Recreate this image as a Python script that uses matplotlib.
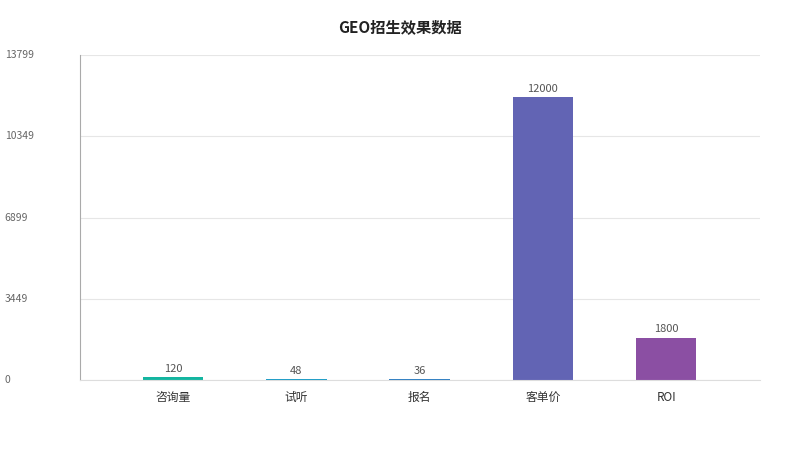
import matplotlib.pyplot as plt

plt.rcParams['font.family'] = ['Noto Sans CJK SC', 'DejaVu Sans']

categories = ['咨询量', '试听', '报名', '客单价', 'ROI']
values = [120, 48, 36, 12000, 1800]
colors = ['#13b5a0', '#1a9cc6', '#2e7ec2', '#6264b4', '#8b4fa3']
yticks = [0, 3449, 6899, 10349, 13799]

fig = plt.figure(figsize=(8, 4.5), dpi=100)
ax = fig.add_axes([0.1, 0.155, 0.85, 0.723])

x = list(range(len(categories)))
bars = ax.bar(x, values, width=0.49, color=colors)
for xi, v in zip(x, values):
    ax.text(xi, v + 150, str(v), ha='center', va='bottom', fontsize=8, color='#555555')

ax.set_xlim(-0.754, 4.76)
ax.set_ylim(0, 13799)
ax.set_yticks(yticks)
ax.set_yticklabels([])
for t in yticks:
    fig.text(0.006, 0.155 + 0.723 * t / 13799, str(t), ha='left', va='center',
             fontsize=7.5, color='#666666')
ax.set_xticks(x)
ax.set_xticklabels(categories, fontsize=8.5, color='#333333')
ax.tick_params(length=0)
ax.tick_params(axis='x', pad=8)
ax.grid(axis='y', color='#e6e6e6', linewidth=0.8)
ax.set_axisbelow(True)
for s in ['top', 'right']:
    ax.spines[s].set_visible(False)
ax.spines['left'].set_color('#aaaaaa')
ax.spines['bottom'].set_color('#dddddd')

fig.text(0.5, 0.94, 'GEO招生效果数据', ha='center', va='center', fontsize=11,
         fontweight='bold', color='#222222')

fig.savefig('out.png')
